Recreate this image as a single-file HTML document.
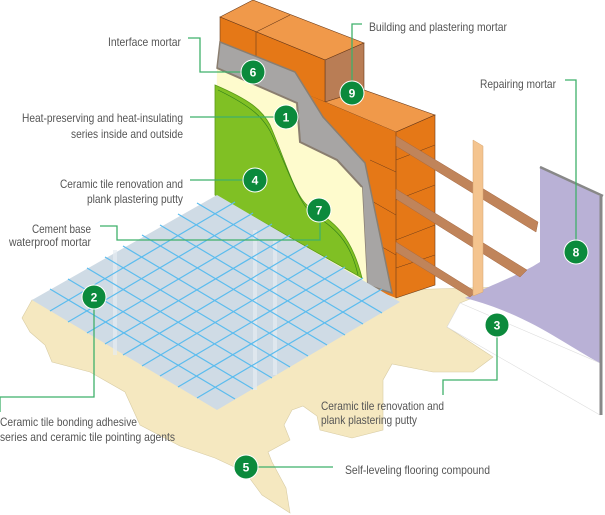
<!DOCTYPE html>
<html><head><meta charset="utf-8"><style>
html,body{margin:0;padding:0;background:#fff;}
svg{display:block;}
text{font-family:"Liberation Sans Narrow","Liberation Sans",sans-serif;font-size:12px;fill:#555;}
.c{fill:#0b8a3c;stroke:#fff;stroke-width:1}
.n{fill:#fff;font-family:"Liberation Sans",sans-serif;font-weight:bold;font-size:12px;text-anchor:middle}
.l{fill:none;stroke:#3fb06a;stroke-width:1.3}
</style></head><body>
<svg width="605" height="515" viewBox="0 0 605 515" xmlns="http://www.w3.org/2000/svg">
<!-- floor cream -->
<path d="M32,300 L22,318 L30,332 L45,345 L52,362 L90,372 L125,392 L140,425 L180,446 L215,458 L245,472 L262,495 L290,513 L286,488 L272,462 L268,452 L290,440 L284,425 L292,410 L303,406 L317,416 L320,430 L352,438 L383,430 L383,380 L392,364 L433,372 L473,372 L493,357 L447,327 L460,303 L500,287 L400,290 L360,275 Z" fill="#f5e8c0" stroke="#d8cca4" stroke-width="0.6"/>
<!-- white wall base -->
<path d="M447,327 L460,303 L600,363 L600,415 Z" fill="#fff" stroke="#ddd" stroke-width="0.6"/>
<!-- purple -->
<path d="M540,167 L600,196 L600,363 C565,345 530,315 465,298 C490,285 520,275 540,262 Z" fill="#b9b1d6"/>
<path d="M540,167 L603,196" stroke="#888" stroke-width="2.5"/>
<path d="M601,196 L601,415" stroke="#888" stroke-width="3"/>
<!-- brick top upper -->
<polygon points="220,17 253,0 364,43 325,60" fill="#f0994a" stroke="#6b3b1a" stroke-width="0.6"/>
<polygon points="325,60 364,43 364,90 325,102" fill="#b97d55" stroke="#6b3b1a" stroke-width="0.6"/>
<polygon points="220,17 325,60 325,102 220,60" fill="#e57817" stroke="#6b3b1a" stroke-width="0.6"/>
<line x1="256" y1="32" x2="256" y2="75" stroke="#6b3b1a" stroke-width="0.6"/>
<line x1="256" y1="32" x2="290" y2="15" stroke="#6b3b1a" stroke-width="0.6"/>
<!-- lower wall -->
<polygon points="325,102 364,90 435,115 396,132" fill="#f0994a" stroke="#6b3b1a" stroke-width="0.6"/>
<polygon points="250,70 325,102 396,132 396,298 300,260" fill="#e57817"/>
<polygon points="396,132 435,115 435,285 396,298" fill="#e57817" stroke="#6b3b1a" stroke-width="0.6"/>
<g stroke="#6b3b1a" stroke-width="0.5" fill="none">
<path d="M396,160 L435,145 M396,200 L435,185 M396,240 L435,225 M396,268 L435,255 M370,160 L396,172 M370,200 L396,215 M370,240 L396,255"/>
</g>
<!-- battens -->
<g fill="#c0845a" stroke="#a56a45" stroke-width="0.5">
<polygon points="396,136 396,146 536,232 538,222"/>
<polygon points="396,189 396,199 520,277 527,270"/>
<polygon points="396,242 396,252 470,297 476,292"/>
</g>
<polygon points="473,140 483,146 483,292 473,296" fill="#f4c48f" stroke="#d6a470" stroke-width="0.5"/>
<!-- gray layer -->
<path d="M220,42 L295,72 L323,117 L365,163 L392,293 L367,285 L362,187 L337,160 L300,142 L297,103 L217,68 Z" fill="#a7a5a4" stroke="#8a7e70" stroke-width="1.5"/>
<!-- cream layer -->
<path d="M217,68 L297,103 L300,142 L337,160 L362,187 L367,284 L215,200 Z" fill="#fefbcd"/>
<path d="M217,68 L297,103 L300,142 L337,160 L362,187" stroke="#8a7e70" stroke-width="2" fill="none"/>
<!-- green layer -->
<path d="M215,85 C250,100 262,110 270,125 C285,160 295,195 307,205 C330,220 350,230 362,278 L215,195 Z" fill="#80c024" stroke="#5a9a18" stroke-width="0.8"/>
<path d="M218,90 C255,108 265,120 272,135 C288,170 298,200 310,212 C335,228 350,240 358,275" stroke="#2f7d1a" stroke-width="0.6" fill="none"/>
<!-- tile floor -->
<polygon points="217,195 400,302 217,410 32,300" fill="#cfdbe5"/>
<g stroke="#e6edf3" stroke-width="4" opacity="0.7">
<line x1="115" y1="250" x2="115" y2="355"/><line x1="255" y1="230" x2="255" y2="390"/><line x1="275" y1="240" x2="275" y2="375"/>
</g>
<g stroke="#5bbcee" stroke-width="1.2">
<line x1="50" y1="289" x2="235" y2="399"/><line x1="68" y1="279" x2="253" y2="389"/><line x1="87" y1="268" x2="272" y2="378"/><line x1="105" y1="257" x2="290" y2="367"/><line x1="123" y1="246" x2="308" y2="356"/><line x1="142" y1="235" x2="327" y2="345"/><line x1="160" y1="225" x2="345" y2="335"/><line x1="178" y1="214" x2="363" y2="324"/><line x1="197" y1="203" x2="382" y2="313"/>
<line x1="50" y1="311" x2="235" y2="202"/><line x1="68" y1="322" x2="253" y2="213"/><line x1="87" y1="333" x2="272" y2="224"/><line x1="105" y1="344" x2="290" y2="235"/><line x1="123" y1="355" x2="308" y2="245"/><line x1="142" y1="366" x2="327" y2="256"/><line x1="160" y1="376" x2="345" y2="267"/><line x1="178" y1="387" x2="363" y2="278"/><line x1="197" y1="398" x2="382" y2="289"/>
</g>
<!-- leader lines -->
<path class="l" d="M188,38 L200,38 L200,72 L243,72"/>
<path class="l" d="M362,24 L352,24 L352,90"/>
<path class="l" d="M565,80 L576,80 L576,250"/>
<path class="l" d="M190,117 L276,117"/>
<path class="l" d="M190,180 L245,180"/>
<path class="l" d="M100,226 L117,226 L117,240 L320,240 L320,212"/>
<path class="l" d="M94,300 L94,397 L0,397 L0,412"/>
<path class="l" d="M497,328 L497,380 L443,380 L443,395"/>
<path class="l" d="M250,467 L333,467"/>
<!-- circles -->
<g>
<circle class="c" cx="253" cy="72" r="12"/><text class="n" x="253" y="76.5">6</text>
<circle class="c" cx="352" cy="93" r="12"/><text class="n" x="352" y="97.5">9</text>
<circle class="c" cx="286" cy="117" r="12"/><text class="n" x="286" y="121.5">1</text>
<circle class="c" cx="255" cy="180" r="12"/><text class="n" x="255" y="184.5">4</text>
<circle class="c" cx="319" cy="210" r="12"/><text class="n" x="319" y="214.5">7</text>
<circle class="c" cx="576" cy="252" r="12"/><text class="n" x="576" y="256.5">8</text>
<circle class="c" cx="94" cy="297" r="12"/><text class="n" x="94" y="301.5">2</text>
<circle class="c" cx="497" cy="325" r="12"/><text class="n" x="497" y="329.5">3</text>
<circle class="c" cx="246" cy="467" r="12"/><text class="n" x="246" y="471.5">5</text>
</g>
<!-- labels -->
<text x="108" y="46" textLength="73" lengthAdjust="spacingAndGlyphs">Interface mortar</text>
<text x="369" y="31" textLength="138" lengthAdjust="spacingAndGlyphs">Building and plastering mortar</text>
<text x="480" y="88" textLength="76" lengthAdjust="spacingAndGlyphs">Repairing mortar</text>
<text x="22" y="122" textLength="161" lengthAdjust="spacingAndGlyphs">Heat-preserving and heat-insulating</text>
<text x="71" y="138" textLength="112" lengthAdjust="spacingAndGlyphs">series inside and outside</text>
<text x="60" y="188" textLength="123" lengthAdjust="spacingAndGlyphs">Ceramic tile renovation and</text>
<text x="87" y="203" textLength="96" lengthAdjust="spacingAndGlyphs">plank plastering putty</text>
<text x="32" y="233" textLength="59" lengthAdjust="spacingAndGlyphs">Cement base</text>
<text x="9" y="246" textLength="82" lengthAdjust="spacingAndGlyphs">waterproof mortar</text>
<text x="0" y="426" textLength="137" lengthAdjust="spacingAndGlyphs">Ceramic tile bonding adhesive</text>
<text x="0" y="441" textLength="175" lengthAdjust="spacingAndGlyphs">series and ceramic tile pointing agents</text>
<text x="321" y="410" textLength="123" lengthAdjust="spacingAndGlyphs">Ceramic tile renovation and</text>
<text x="321" y="424" textLength="96" lengthAdjust="spacingAndGlyphs">plank plastering putty</text>
<text x="345" y="474" textLength="145" lengthAdjust="spacingAndGlyphs">Self-leveling flooring compound</text>
</svg>
</body></html>
